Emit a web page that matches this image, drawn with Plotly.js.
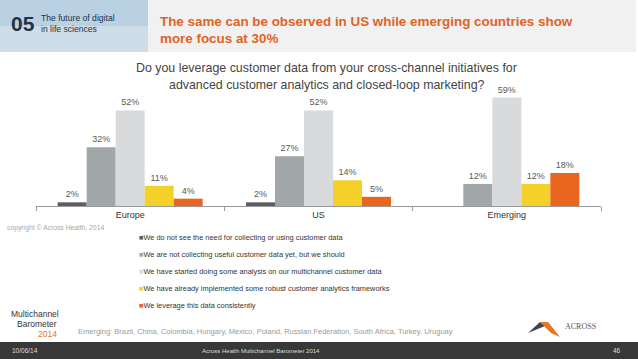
<!DOCTYPE html>
<html>
<head>
<meta charset="utf-8">
<script src="https://cdn.plot.ly/plotly-3.0.1.min.js"></script>
<style>
html,body{margin:0;padding:0;background:#fff;}
#chart{width:638px;height:359px;}
</style>
</head>
<body>
<div id="chart"></div>
<script>
// ---- data ----
var regions = ["Europe", "US", "Emerging"];
var seriesNames = [
  "We do not see the need for collecting or using customer data",
  "We are not collecting useful customer data yet, but we should",
  "We have started doing some analysis on our multichannel customer data",
  "We have already implemented some robust customer analytics frameworks",
  "We leverage this data consistently"
];
var notNeeded   = [2, 2, null];
var notYet      = [32, 27, 12];
var started     = [52, 52, 59];
var implemented = [11, 14, 12];
var leverage    = [4, 5, 18];
var seriesColors = ["#5b5d5f", "#a1a6a8", "#d8dadb", "#f3d128", "#e8661e"];

// ---- geometry helpers (pixel -> paper) ----
var L = 36, R = 601, T = 85, B = 206;
function px(x){ return (x - L) / (R - L); }
function py(y){ return (B - y) / (B - T); }

var values = [notNeeded, notYet, started, implemented, leverage];
var traces = values.map(function(v, i){
  return {
    type: "bar",
    name: seriesNames[i],
    x: regions,
    y: v,
    marker: {color: seriesColors[i]},
    text: v.map(function(d){ return d == null ? "" : d + "%"; }),
    textposition: "outside",
    textfont: {family: "Liberation Sans, Arial, sans-serif", size: 9, color: "#595959"},
    cliponaxis: false,
    hoverinfo: "none",
    showlegend: false
  };
});

var font = "Liberation Sans, Arial, sans-serif";

var annotations = [];
function ann(text, x, y, size, color, opts){
  var a = {text: text, x: px(x), y: py(y), xref: "paper", yref: "paper",
    showarrow: false, xanchor: "left", yanchor: "middle",
    font: {family: font, size: size, color: color}};
  for (var k in (opts||{})) a[k] = opts[k];
  annotations.push(a);
}

// legend (as annotations)
var legendY = [237.5, 254.5, 271.2, 288, 305];
seriesNames.forEach(function(n, i){
  ann('<span style="color:' + seriesColors[i] + '">■</span>' + n, 137, legendY[i], 7.4, "#333");
});

// chart question
ann("Do you leverage customer data from your cross-channel initiatives for", 326, 67.5, 12.4, "#444", {xanchor: "center"});
ann("advanced customer analytics and closed-loop marketing?", 327, 85, 12.4, "#444", {xanchor: "center"});

// header
ann("<b>The same can be observed in US while emerging countries show</b>", 158, 21, 13.4, "#e0631f");
ann("<b>more focus at 30%</b>", 158, 38.5, 13.4, "#e0631f");
ann("<b>05</b>", 9, 24, 21, "#1f3445");
ann("The future of digital", 39, 18, 8.6, "#1f3445");
ann("in life sciences", 39, 29, 8.6, "#1f3445");

// copyright
ann("copyright © Across Health, 2014", 5, 227.5, 6.8, "#a8a8a8");

// emerging note
ann("Emerging: Brazil, China, Colombia, Hungary, Mexico, Poland, Russian Federation, South Africa, Turkey, Uruguay",
    76, 331, 7.5, "#9a9a9a");

// footer texts
ann("10/06/14", 10, 350.5, 6.5, "#dddddd");
ann("Across Health Multichannel Barometer 2014", 261, 350.5, 6, "#dddddd", {xanchor: "center"});
ann("46", 623, 350.5, 6.5, "#dddddd", {xanchor: "right"});

// logos (text)
ann("Multichannel", 9, 314, 8.5, "#333");
ann("Barometer", 15, 324, 8.5, "#333");
ann("2014", 36, 333.5, 8.5, "#e0762a");
ann("ACROSS", 563, 326, 8, "#555", {font: {family: "Liberation Serif, serif", size: 8, color: "#555"}});

var shapes = [
  // header grey band
  {type: "rect", xref: "paper", yref: "paper", x0: px(148), x1: px(636), y0: py(0), y1: py(52),
   fillcolor: "#f1f1f1", line: {width: 0}, layer: "below"},
  // header picture area
  {type: "rect", xref: "paper", yref: "paper", x0: px(0), x1: px(148), y0: py(0), y1: py(26),
   fillcolor: "#b9d1e3", line: {width: 0}, layer: "below"},
  {type: "rect", xref: "paper", yref: "paper", x0: px(0), x1: px(148), y0: py(26), y1: py(52),
   fillcolor: "#cfdde8", line: {width: 0}, layer: "below"},
  // footer bar
  {type: "rect", xref: "paper", yref: "paper", x0: px(0), x1: px(638), y0: py(342), y1: py(359),
   fillcolor: "#383838", line: {width: 0}, layer: "below"},
  // across logo mark
  {type: "path", xref: "paper", yref: "paper",
   path: "M " + px(528) + "," + py(333) + " L " + px(540) + "," + py(322) + " L " + px(545) + "," + py(326) + " Z",
   fillcolor: "#3b4650", line: {width: 0}},
  {type: "path", xref: "paper", yref: "paper",
   path: "M " + px(540) + "," + py(322) + " L " + px(548) + "," + py(322) + " L " + px(560) + "," + py(337) + " L " + px(551) + "," + py(333) + " Z",
   fillcolor: "#e8761e", line: {width: 0}}
];

var layout = {
  width: 638, height: 359,
  margin: {l: L, r: 638 - R, t: T, b: 359 - B, pad: 0},
  paper_bgcolor: "#ffffff", plot_bgcolor: "rgba(0,0,0,0)",
  barmode: "group", bargap: 0.23, bargroupgap: 0,
  showlegend: false,
  font: {family: font, size: 9, color: "#333"},
  xaxis: {
    type: "category", range: [-0.5, 2.5], fixedrange: true,
    showline: true, linecolor: "#9a9a9a", linewidth: 1,
    ticks: "outside", tickson: "boundaries", ticklen: 4, tickcolor: "#9a9a9a",
    tickfont: {family: font, size: 9, color: "#333"},
    showgrid: false, zeroline: false
  },
  yaxis: {range: [0, 65.8], visible: false, fixedrange: true},
  annotations: annotations,
  shapes: shapes
};

Plotly.newPlot("chart", traces, layout, {displayModeBar: false, staticPlot: true});
</script>
</body>
</html>
